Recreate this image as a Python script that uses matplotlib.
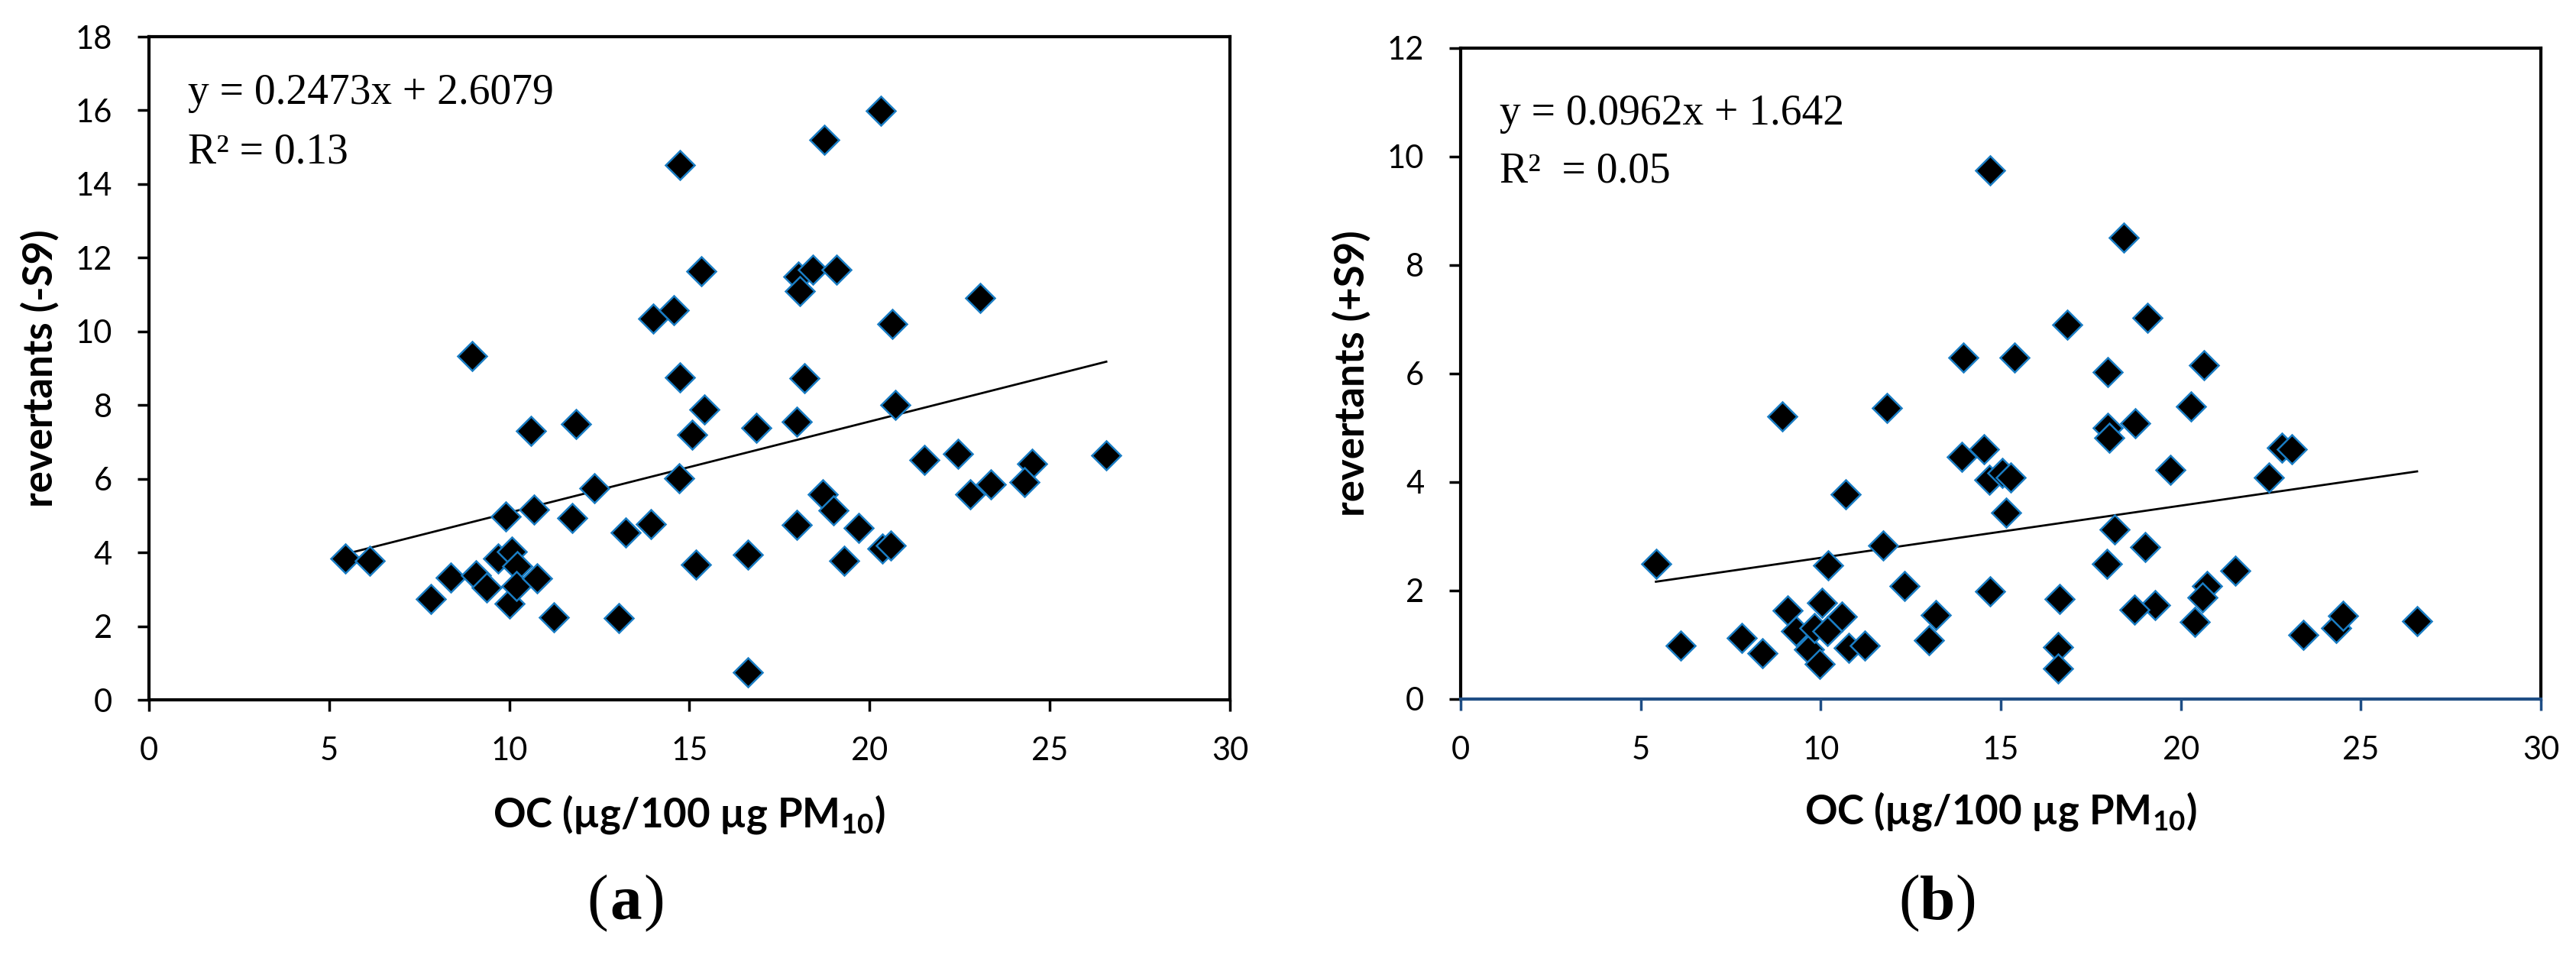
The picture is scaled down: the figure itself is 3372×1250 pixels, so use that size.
import numpy as np
import matplotlib
matplotlib.use("Agg")
import matplotlib.pyplot as plt

plt.rcParams['mathtext.fontset'] = 'custom'
plt.rcParams['mathtext.rm'] = 'Lato'
plt.rcParams['mathtext.bf'] = 'Lato:bold'

# panel (a): revertants (-S9) vs OC
oc_a = [5.44, 6.13, 7.82, 8.37, 9.08, 9.37, 9.68, 9.91, 10.0, 10.08, 10.23, 10.2, 10.6, 10.69,
        10.77, 11.23, 11.75, 11.86, 12.36, 13.05, 13.24, 8.97, 14.0, 14.56, 14.74, 18.75, 20.31,
        15.32, 18.03, 18.06, 18.43, 19.09, 23.06, 20.64, 14.74, 18.2, 15.41, 15.07, 16.85, 17.97,
        20.71, 14.72, 21.53, 22.45, 26.57, 24.5, 24.29, 23.37, 22.8, 18.71, 19.0, 13.94, 17.97,
        19.7, 20.35, 20.59, 16.62, 15.19, 19.29, 16.62]
rev_a = [3.83, 3.78, 2.74, 3.31, 3.37, 3.05, 3.84, 4.97, 2.62, 4.03, 3.62, 3.1, 7.29, 5.16,
         3.29, 2.24, 4.94, 7.48, 5.74, 2.21, 4.55, 9.34, 10.35, 10.58, 14.51, 15.2, 15.98,
         11.64, 11.49, 11.09, 11.67, 11.67, 10.91, 10.2, 8.75, 8.73, 7.87, 7.19, 7.39, 7.55,
         8.0, 6.01, 6.51, 6.68, 6.63, 6.41, 5.91, 5.85, 5.58, 5.57, 5.14, 4.76, 4.74,
         4.66, 4.1, 4.18, 3.95, 3.68, 3.78, 0.75]
fit_a = (0.2473, 2.6079)
r2_a = "0.13"

# panel (b): revertants (+S9) vs OC
oc_b = [5.42, 6.11, 7.81, 8.37, 8.93, 9.07, 9.32, 9.67, 9.83, 9.97, 10.04, 10.21, 10.18, 10.58,
        10.69, 10.77, 11.23, 11.72, 11.83, 12.33, 13.01, 13.2, 13.91, 13.95, 14.52, 14.69, 14.67,
        14.69, 15.05, 15.28, 15.15, 15.37, 18.42, 16.85, 19.08, 17.97, 20.64, 20.28, 17.97, 18.02,
        18.73, 22.81, 23.08, 19.7, 22.45, 18.16, 19.0, 17.95, 21.51, 16.64, 20.72, 20.6, 19.28,
        18.71, 20.39, 16.59, 16.59, 23.39, 24.31, 24.51, 26.56]
rev_b = [2.5, 0.98, 1.12, 0.84, 5.21, 1.63, 1.26, 0.92, 1.31, 0.65, 1.78, 2.46, 1.25, 1.52,
         3.78, 0.94, 0.98, 2.83, 5.36, 2.08, 1.09, 1.55, 4.47, 6.3, 4.61, 9.74, 4.04,
         1.99, 4.17, 4.08, 3.44, 6.3, 8.51, 6.9, 7.03, 6.03, 6.16, 5.39, 5.0, 4.81,
         5.08, 4.64, 4.61, 4.23, 4.08, 3.12, 2.8, 2.5, 2.37, 1.84, 2.08, 1.88, 1.73,
         1.65, 1.42, 0.96, 0.56, 1.18, 1.31, 1.54, 1.43]
fit_b = (0.0962, 1.642)
r2_b = "0.05"

fig = plt.figure(figsize=(33.73, 12.5), dpi=100)
ax_a = fig.add_axes([0.0578, 0.2672, 0.4195, 0.6944])
ax_b = fig.add_axes([0.5669, 0.268, 0.4192, 0.6816])

panels = [
    (ax_a, oc_a, rev_a, fit_a, "y = 0.2473x + 2.6079", "R² = " + r2_a, "revertants (-S9)", 18, 0.915, 0.826),
    (ax_b, oc_b, rev_b, fit_b, "y = 0.0962x + 1.642", "R²  = " + r2_b, "revertants (+S9)", 12, 0.899, 0.81),
]

for ax, x, y, fit, eq, r2, ylab, ymax, eq_y, r2_y in panels:
    ax.plot(x, y, linestyle='none', marker='D', markersize=19, markerfacecolor='black',
            markeredgecolor='#1a7dc4', markeredgewidth=1.8, zorder=3)
    xs = np.array([min(x), max(x)])
    ax.plot(xs, fit[0] * xs + fit[1], color='black', linewidth=2, zorder=2)
    ax.set_xlim(0, 30)
    ax.set_ylim(0, ymax)
    ax.set_xticks(range(0, 31, 5))
    ax.set_yticks(range(0, ymax + 1, 2))
    for s in ax.spines.values():
        s.set_linewidth(3)
        s.set_color('black')
    ax.tick_params(direction='out', length=10.5, width=2.5, labelsize=30, pad=24)
    for lab in ax.get_xticklabels() + ax.get_yticklabels():
        lab.set_fontfamily('Lato')
    ax.text(0.036, eq_y, eq, transform=ax.transAxes, fontsize=40,
            family='Liberation Serif', va='center', ha='left')
    ax.text(0.036, r2_y, r2, transform=ax.transAxes, fontsize=40,
            family='Liberation Serif', va='center', ha='left')
    ax.set_ylabel(ylab, fontsize=38, fontweight='bold', family='Lato')
    ax.yaxis.set_label_coords(-0.083, 0.5)
    ax.set_xlabel(r'OC (µg/100 µg PM$_{\mathbf{10}}$)', fontsize=38, fontweight='bold', family='Lato')
    ax.xaxis.set_label_coords(0.5, -0.14)

ax_b.spines['bottom'].set_color('#1f4e85')
ax_b.tick_params(axis='x', color='#1f4e85')

for cx, letter in [(819 / 3373, 'a'), (2536 / 3373, 'b')]:
    cy = 1 - 1183 / 1250
    fig.text(cx, cy, letter, fontsize=60, fontweight='bold', family='Liberation Serif', ha='center', va='center')
    fig.text(cx - 0.0068, cy, '(', fontsize=60, family='Liberation Serif', ha='right', va='center')
    fig.text(cx + 0.0068, cy, ')', fontsize=60, family='Liberation Serif', ha='left', va='center')

fig.savefig('out.png', dpi=100)
